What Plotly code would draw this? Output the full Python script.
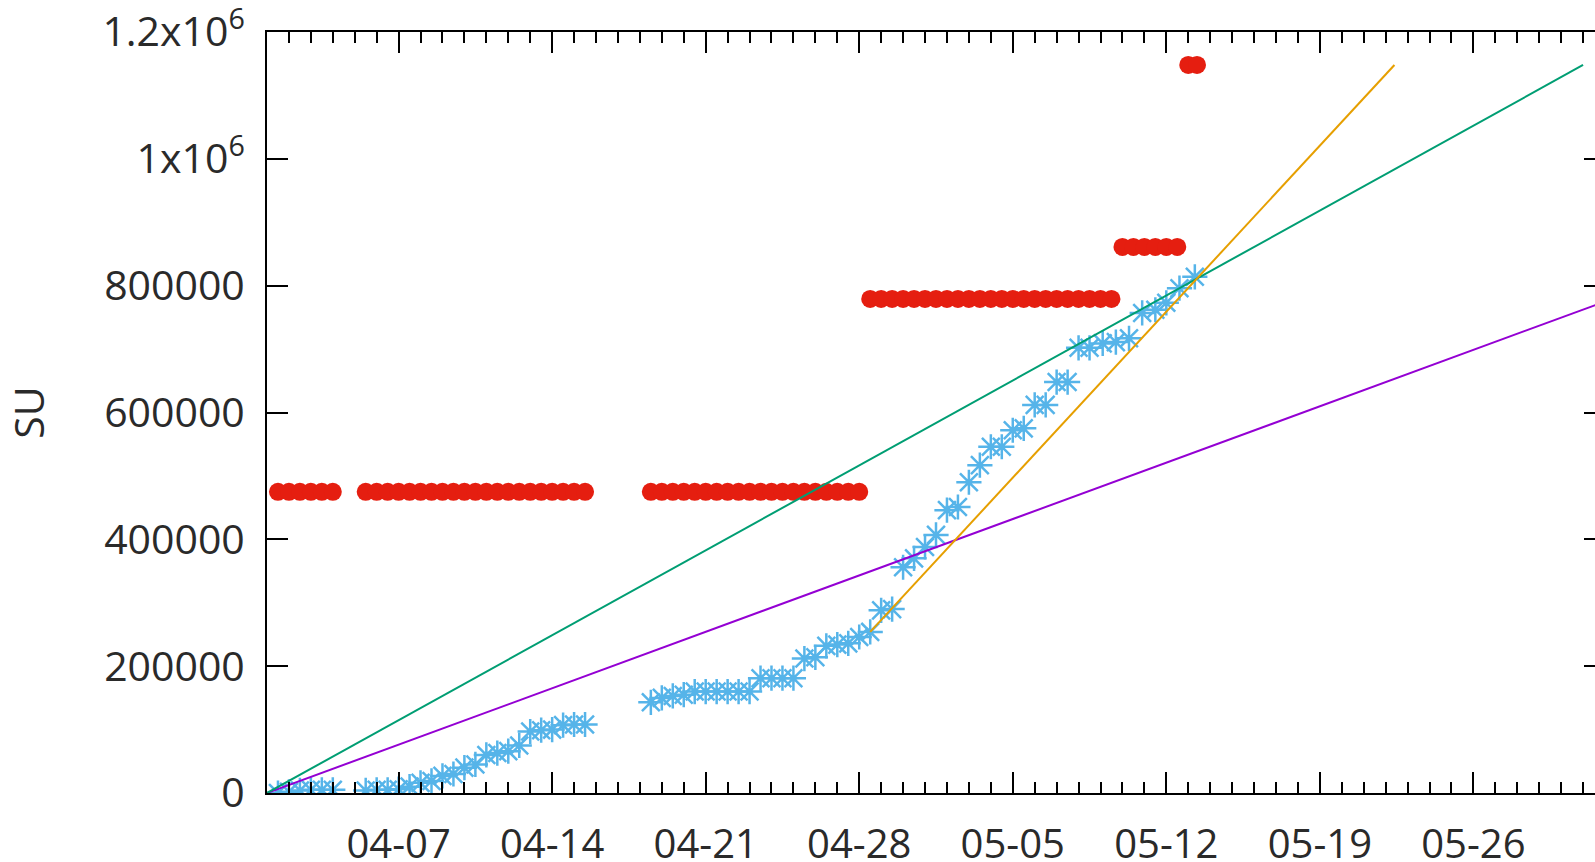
import pandas as pd
import plotly.graph_objects as go

START = pd.Timestamp("2014-04-01")

# --- data (day offsets from 04-01, SU values) ---
alloc_days = [0.5, 1.0, 1.5, 2.0, 2.5, 3.0,
              4.5, 5.0, 5.5, 6.0, 6.5, 7.0, 7.5, 8.0, 8.5, 9.0, 9.5, 10.0, 10.5, 11.0,
              11.5, 12.0, 12.5, 13.0, 13.5, 14.0, 14.5,
              17.5, 18.0, 18.5, 19.0, 19.5, 20.0, 20.5, 21.0, 21.5, 22.0, 22.5, 23.0, 23.5,
              24.0, 24.5, 25.0, 25.5, 26.0, 26.5, 27.0,
              27.5, 28.0, 28.5, 29.0, 29.5, 30.0, 30.5, 31.0, 31.5, 32.0, 32.5, 33.0, 33.5,
              34.0, 34.5, 35.0, 35.5, 36.0, 36.5, 37.0, 37.5, 38.0, 38.5,
              39.0, 39.5, 40.0, 40.5, 41.0, 41.5,
              42.0, 42.4]
alloc_su = [475000] * 6 + [475000] * 21 + [475000] * 20 + [779000] * 23 + [861000] * 6 + [1148000] * 2

usage_days = [0.5, 1.0, 1.5, 2.0, 2.5, 3.0,
              4.5, 5.0, 5.5, 6.0, 6.5, 7.0, 7.5, 8.0, 8.5, 9.0, 9.5, 10.0, 10.5, 11.0,
              11.5, 12.0, 12.5, 13.0, 13.5, 14.0, 14.5,
              17.5, 18.0, 18.5, 19.0, 19.5, 20.0, 20.5, 21.0, 21.5, 22.0, 22.5, 23.0, 23.5,
              24.0, 24.5, 25.0, 25.5, 26.0, 26.5, 27.0,
              27.5, 28.0, 28.5, 29.0, 29.5, 30.0, 30.5, 31.0, 31.5, 32.0, 32.5, 33.0, 33.5,
              34.0, 34.5, 35.0, 35.5, 36.0, 36.5, 37.0, 37.5, 38.1, 38.7, 39.3, 39.9,
              40.5, 41.0, 41.6, 42.3]
usage_su = [0, 2000, 4000, 5000, 5000, 5000,
            4000, 5000, 5000, 6000, 10000, 16000, 19000, 27000, 30000, 40000, 45000, 60000,
            63000, 66000, 75000, 97000, 99000, 100000, 107000, 108000, 108000,
            143000, 150000, 153000, 155000, 160000, 160000, 160000, 160000, 160000, 160000,
            181000, 181000, 181000, 181000, 212000, 214000, 232000, 234000, 236000, 246000,
            254000, 288000, 290000, 356000, 370000, 388000, 407000, 446000, 451000, 490000,
            517000, 546000, 546000, 572000, 575000, 612000, 612000, 648000, 648000, 702000,
            702000, 709000, 711000, 717000, 757000, 762000, 773000, 796000, 814000]

purple_days = [0, 61]
purple_su = [0, 775000]
green_days = [0, 60]
green_su = [0, 1148000]
orange_days = [27.5, 51.4]
orange_su = [254000, 1148000]

x_tick_labels = ["04-07", "04-14", "04-21", "04-28", "05-05", "05-12", "05-19", "05-26"]
y_tick_vals = [0, 200000, 400000, 600000, 800000, 1000000, 1200000]
y_tick_text = ["0", "200000", "400000", "600000", "800000",
               "1x10<sup>6</sup>", "1.2x10<sup>6</sup>"]
y_title = "SU"


def to_dates(days):
    return [START + pd.Timedelta(days=d) for d in days]


FONT = "Open Sans"
TXT = "#2a2a2a"
FS = 41

fig = go.Figure()
fig.add_trace(go.Scatter(
    x=to_dates(alloc_days), y=alloc_su, mode="markers",
    marker=dict(symbol="circle", size=18, color="#E51E10", line=dict(width=0)),
    showlegend=False, hoverinfo="skip"))
fig.add_trace(go.Scatter(
    x=to_dates(usage_days), y=usage_su, mode="markers",
    marker=dict(symbol="asterisk-open", size=21, color="#56B4E9",
                line=dict(width=2.5, color="#56B4E9")),
    showlegend=False, hoverinfo="skip"))
fig.add_trace(go.Scatter(
    x=to_dates(purple_days), y=purple_su, mode="lines",
    line=dict(color="#9400D3", width=2), showlegend=False, hoverinfo="skip"))
fig.add_trace(go.Scatter(
    x=to_dates(green_days), y=green_su, mode="lines",
    line=dict(color="#009E73", width=2), showlegend=False, hoverinfo="skip"))
fig.add_trace(go.Scatter(
    x=to_dates(orange_days), y=orange_su, mode="lines",
    line=dict(color="#E69F00", width=2), showlegend=False, hoverinfo="skip"))

fig.update_layout(
    width=1620, height=862,
    margin=dict(l=267, r=15, t=32, b=69, autoexpand=False),
    paper_bgcolor="white", plot_bgcolor="white",
    font=dict(family=FONT, size=FS, color=TXT),
    showlegend=False,
)
fig.update_xaxes(
    type="date", automargin=False,
    range=[START, START + pd.Timedelta(days=61)],
    tickvals=[pd.Timestamp("2014-" + t) for t in x_tick_labels],
    ticktext=x_tick_labels,
    ticks="inside", ticklen=21, tickwidth=2, tickcolor="black",
    minor=dict(dtick=86400000, tick0=START, ticks="inside", ticklen=11,
               tickwidth=2, tickcolor="black", showgrid=False),
    showline=True, linecolor="black", linewidth=2, mirror="ticks",
    showgrid=False, zeroline=False,
    ticklabelstandoff=15, ticklabeloverflow="allow",
    tickfont=dict(family=FONT, size=40, color=TXT),
)
fig.update_yaxes(
    automargin=False,
    range=[0, 1200000],
    tickvals=y_tick_vals, ticktext=y_tick_text,
    ticks="inside", ticklen=21, tickwidth=2, tickcolor="black",
    showline=True, linecolor="black", linewidth=2, mirror="ticks",
    showgrid=False, zeroline=False,
    ticklabelstandoff=12, ticklabeloverflow="allow",
    tickfont=dict(family=FONT, size=FS, color=TXT),
    title=dict(text=y_title, font=dict(family=FONT, size=FS, color=TXT), standoff=50),
)

fig.write_html("out.html", config={"displayModeBar": False},
               post_script="document.body.style.margin='0';document.body.style.overflow='hidden';")
